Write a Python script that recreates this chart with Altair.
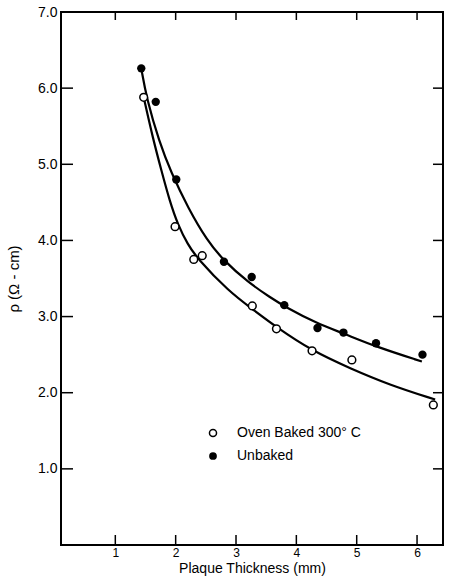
import altair as alt
import pandas as pd

# Measured data points
baked_x = [1.47, 1.99, 2.30, 2.44, 3.27, 3.67, 4.26, 4.92, 6.27]
baked_y = [5.88, 4.18, 3.75, 3.80, 3.14, 2.84, 2.55, 2.43, 1.84]
unbaked_x = [1.43, 1.67, 2.01, 2.80, 3.26, 3.80, 4.35, 4.78, 5.32, 6.09]
unbaked_y = [6.26, 5.82, 4.80, 3.72, 3.52, 3.15, 2.85, 2.79, 2.65, 2.50]

# Fitted curves
baked_curve_x = [1.47, 1.62, 1.77, 1.90, 2.04, 2.20, 2.35, 2.88, 3.27, 3.67, 4.26, 4.89, 5.55, 6.30]
baked_curve_y = [5.88, 5.35, 4.90, 4.52, 4.20, 3.95, 3.77, 3.33, 3.10, 2.86, 2.55, 2.32, 2.10, 1.91]
unbaked_curve_x = [1.43, 1.52, 1.73, 1.92, 2.21, 2.52, 2.79, 3.20, 3.57, 3.81, 4.34, 4.78, 5.33, 6.08]
unbaked_curve_y = [6.26, 5.86, 5.29, 4.90, 4.42, 4.00, 3.74, 3.45, 3.25, 3.13, 2.91, 2.78, 2.60, 2.41]

series_names = ["Oven Baked 300° C", "Unbaked"]
x_ticks = [1, 2, 3, 4, 5, 6]
y_ticks = [1, 2, 3, 4, 5, 6, 7]

W, H = 382, 533
FONT = "Liberation Sans"

xs = alt.Scale(domain=[0.1, 6.43], nice=False, zero=False)
ys = alt.Scale(domain=[0, 7], nice=False, zero=True)

baked_df = pd.DataFrame({"x": baked_x, "y": baked_y})
unbaked_df = pd.DataFrame({"x": unbaked_x, "y": unbaked_y})
curves_df = pd.concat([
    pd.DataFrame({"x": baked_curve_x, "y": baked_curve_y, "s": series_names[0]}),
    pd.DataFrame({"x": unbaked_curve_x, "y": unbaked_curve_y, "s": series_names[1]}),
])

x_axis = alt.Axis(values=x_ticks, title="Plaque Thickness (mm)", ticks=False, domain=False,
                  grid=False, labelFontSize=12, labelPadding=2, titleFontSize=14,
                  titleFontWeight="normal", titleY=23, titleBaseline="middle",
                  labelColor="black", titleColor="black")
y_axis = alt.Axis(values=y_ticks, title="ρ (Ω - cm)", format=".1f", ticks=False, domain=False,
                  grid=False, labelFontSize=14, labelPadding=4, titleFontSize=15,
                  titleFontWeight="normal", titlePadding=16, labelColor="black", titleColor="black")

X = alt.X("x:Q", scale=xs, axis=x_axis)
Y = alt.Y("y:Q", scale=ys, axis=y_axis)

curves = alt.Chart(curves_df).mark_line(color="black", strokeWidth=2.2, interpolate="basis").encode(
    x=X, y=Y, detail="s:N",
)

open_pts = alt.Chart(baked_df).mark_point(shape="circle", filled=False, fill="white", stroke="black",
                                          strokeWidth=1.5, opacity=1, size=60).encode(x=X, y=Y)
filled_pts = alt.Chart(unbaked_df).mark_circle(color="black", opacity=1, size=70).encode(x=X, y=Y)

xt = pd.DataFrame({"x": x_ticks})
yt = pd.DataFrame({"y": y_ticks[:-1]})
tick_style = dict(color="black", strokeWidth=1.5)
bottom_ticks = alt.Chart(xt).mark_rule(**tick_style).encode(
    x=X, y=alt.value(H), y2=alt.value(H - 10))
top_ticks = alt.Chart(xt).mark_rule(**tick_style).encode(
    x=X, y=alt.value(0), y2=alt.value(8))
left_ticks = alt.Chart(yt).mark_rule(**tick_style).encode(
    y=Y, x=alt.value(0), x2=alt.value(12))
right_ticks = alt.Chart(yt).mark_rule(**tick_style).encode(
    y=Y, x=alt.value(W), x2=alt.value(W - 10))

leg1 = pd.DataFrame({"label": [series_names[0]]})
leg2 = pd.DataFrame({"label": [series_names[1]]})
leg_open = alt.Chart(leg1).mark_point(shape="circle", filled=False, fill="white", stroke="black",
                                      strokeWidth=1.5, opacity=1, size=50).encode(
    x=alt.value(152), y=alt.value(421))
leg_open_t = alt.Chart(leg1).mark_text(align="left", baseline="middle", fontSize=14, font=FONT,
                                       color="black").encode(
    x=alt.value(176), y=alt.value(421), text="label:N")
leg_fill = alt.Chart(leg2).mark_circle(color="black", opacity=1, size=60).encode(
    x=alt.value(152), y=alt.value(444))
leg_fill_t = alt.Chart(leg2).mark_text(align="left", baseline="middle", fontSize=14, font=FONT,
                                       color="black").encode(
    x=alt.value(176), y=alt.value(444), text="label:N")

chart = alt.layer(
    curves, open_pts, filled_pts, bottom_ticks, top_ticks, left_ticks, right_ticks,
    leg_open, leg_open_t, leg_fill, leg_fill_t,
).properties(
    width=W, height=H,
    autosize=alt.AutoSizeParams(type="none"),
    padding={"left": 61, "top": 12, "right": 6, "bottom": 42},
).configure(font=FONT, background="white").configure_view(
    stroke="black", strokeWidth=2
)

chart.save("out.html", embed_options={"renderer": "svg", "actions": False})
